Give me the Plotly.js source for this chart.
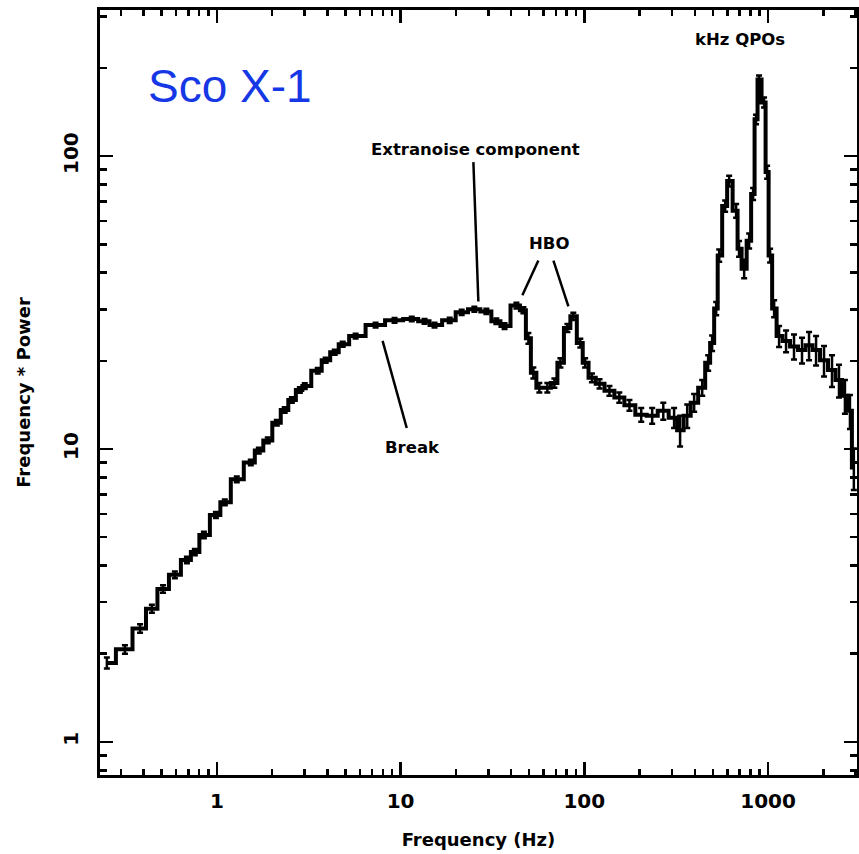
<!DOCTYPE html>
<html>
<head>
<meta charset="utf-8">
<script src="https://cdn.plot.ly/plotly-3.0.1.min.js"></script>
<style>
  html, body { margin: 0; padding: 0; background: #fff; }
  #chart { width: 859px; height: 854px; }
</style>
</head>
<body>
<div id="chart"></div>
<script>
// Sco X-1 power density spectrum (frequency x power), log-binned
const freqHz = [0.252,0.316,0.382,0.443,0.509,0.591,0.687,0.759,0.850,0.988,
  1.105,1.284,1.530,1.692,1.893,2.12,2.34,2.56,2.83,3.01,
  3.54,3.91,4.38,4.84,5.69,7.31,9.27,11.5,13.5,15.3,
  18.5,21.5,25.2,29.3,33.2,36.8,42.7,46.6,49.6,52.8,
  56.9,62.9,68.7,74.1,80.9,87.1,95.1,101,110,121,
  137,155,176,204,234,269,308,332,363,396,
  438,472,496,522,542,584,614,670,695,741,
  789,829,860,893,951,988,1026,1079,1148,1253,
  1384,1530,1671,1825,2016,2228,2432,2620,2790,2930];

const freqTimesPower = [1.86,2.07,2.44,2.85,3.33,3.72,4.18,4.45,5.09,5.95,
  6.58,7.88,9.00,9.88,10.7,12.3,13.6,14.7,15.9,16.4,
  18.5,20.1,21.4,22.8,24.3,26.5,27.5,27.8,27.3,26.5,
  27.5,29.3,30.0,29.5,27.3,26.3,30.9,29.8,23.9,18.2,
  16.2,16.2,16.8,19.7,25.9,28.4,23.0,19.7,17.5,16.7,
  15.8,15.0,14.1,13.1,13.0,13.5,12.8,11.6,13.0,14.4,
  16.2,19.7,23.0,30.2,45.8,67.6,82.2,65.1,48.3,41.3,
  51.4,74.3,133.6,182.6,152.5,88.2,45.8,30.2,24.3,23.4,
  22.4,21.8,22.6,21.8,20.1,18.6,17.2,15.2,13.5,8.65];

const powerError = [0.08,0.07,0.08,0.09,0.10,0.10,0.11,0.11,0.13,0.14,
  0.15,0.18,0.2,0.22,0.24,0.27,0.3,0.32,0.35,0.36,
  0.4,0.4,0.43,0.45,0.45,0.5,0.5,0.5,0.5,0.5,
  0.55,0.6,0.6,0.6,0.6,0.6,0.7,0.7,1.0,0.8,
  0.6,0.6,0.6,0.7,0.8,0.8,0.8,0.7,0.6,0.6,
  0.6,0.6,0.6,0.7,0.8,0.9,1.0,1.4,1.2,1.0,
  1.0,1.2,1.4,1.6,2.2,3.0,3.5,3.5,3.0,3.0,
  3.0,3.5,5.0,6.0,6.0,4.5,2.5,2.0,2.0,2.0,
  2.2,2.2,2.5,2.5,2.4,2.3,2.2,2.0,1.8,1.4];

// axis tick labels
const xTickVals = [1, 10, 100, 1000];
const xTickText = ['1', '10', '100', '1000'];
const yTickVals = [1, 10, 100];
const yTickText = ['1', '10', '100'];

// feature labels: [text, frequency, power]
const featureLabels = [
  ['kHz QPOs', 704, 251],
  ['Extranoise component', 25.6, 105],
  ['HBO', 64.5, 50.2],
  ['Break', 11.6, 10.1]
];

// pointer lines: [f0, p0, f1, p1]
const pointerLines = [
  [24.9, 95.4, 26.5, 31.9],
  [56.2, 44.0, 46.0, 33.5],
  [67.9, 44.0, 81.9, 30.7],
  [7.98, 23.4, 10.8, 11.8]
];

function minorTicks(lo, hi) {
  const out = [];
  for (let d = Math.floor(Math.log10(lo)); d <= Math.ceil(Math.log10(hi)); d++) {
    for (let m = 2; m <= 9; m++) {
      const v = m * Math.pow(10, d);
      if (v > lo && v < hi) out.push(v);
    }
  }
  return out;
}

const labelFont = { family: 'DejaVu Sans', size: 16.5, color: '#000', weight: 'bold' };

const trace = {
  x: freqHz,
  y: freqTimesPower,
  type: 'scatter',
  mode: 'lines',
  line: { shape: 'hvh', color: '#000', width: 4 },
  error_y: { type: 'data', array: powerError, visible: true, color: '#000', thickness: 2.5, width: 3 },
  hoverinfo: 'x+y'
};

const axisCommon = {
  type: 'log',
  showgrid: false,
  zeroline: false,
  showline: true,
  linecolor: '#000',
  linewidth: 3,
  mirror: 'allticks',
  ticks: 'inside',
  ticklen: 13,
  tickwidth: 2.5,
  tickcolor: '#000',
  tickmode: 'array',
  tickfont: { family: 'DejaVu Sans', size: 20, color: '#000', weight: 'bold' },
  automargin: false
};

const layout = {
  width: 859,
  height: 854,
  margin: { l: 100, r: 2, t: 10, b: 79 },
  paper_bgcolor: '#fff',
  plot_bgcolor: '#fff',
  showlegend: false,
  xaxis: Object.assign({}, axisCommon, {
    range: [-0.636, 3.484],
    tickvals: xTickVals,
    ticktext: xTickText,
    ticklabelstandoff: 6,
    minor: { ticks: 'inside', ticklen: 6, tickwidth: 2.5, tickcolor: '#000', tickvals: minorTicks(0.2, 3100), showgrid: false },
    title: { text: 'Frequency (Hz)', font: { family: 'DejaVu Sans', size: 18, color: '#000', weight: 'bold' }, standoff: 22 }
  }),
  yaxis: Object.assign({}, axisCommon, {
    range: [-0.113, 2.499],
    tickvals: yTickVals,
    ticktext: yTickText,
    tickangle: -90,
    ticklabelstandoff: 11,
    minor: { ticks: 'inside', ticklen: 7, tickwidth: 2.5, tickcolor: '#000', tickvals: minorTicks(0.7, 320), showgrid: false },
    title: { text: 'Frequency * Power', font: { family: 'DejaVu Sans', size: 18, color: '#000', weight: 'bold' }, standoff: 24 }
  }),
  annotations: featureLabels.map(([t, f, p]) => ({
    text: t, x: Math.log10(f), y: Math.log10(p), xref: 'x', yref: 'y',
    showarrow: false, font: labelFont, xanchor: 'center', yanchor: 'middle'
  })).concat([{
    text: 'Sco X-1', xref: 'paper', yref: 'paper', x: 0.061, y: 0.901,
    xanchor: 'left', yanchor: 'middle', showarrow: false,
    font: { family: 'Liberation Sans', size: 46, color: '#1537e6' }
  }]),
  // line shapes on log axes take plain data values here
  shapes: pointerLines.map(([f0, p0, f1, p1]) => ({
    type: 'line', xref: 'x', yref: 'y',
    x0: f0, y0: p0, x1: f1, y1: p1,
    line: { color: '#000', width: 2.5 }
  }))
};

Plotly.newPlot('chart', [trace], layout, { staticPlot: true, displayModeBar: false });
</script>
</body>
</html>
